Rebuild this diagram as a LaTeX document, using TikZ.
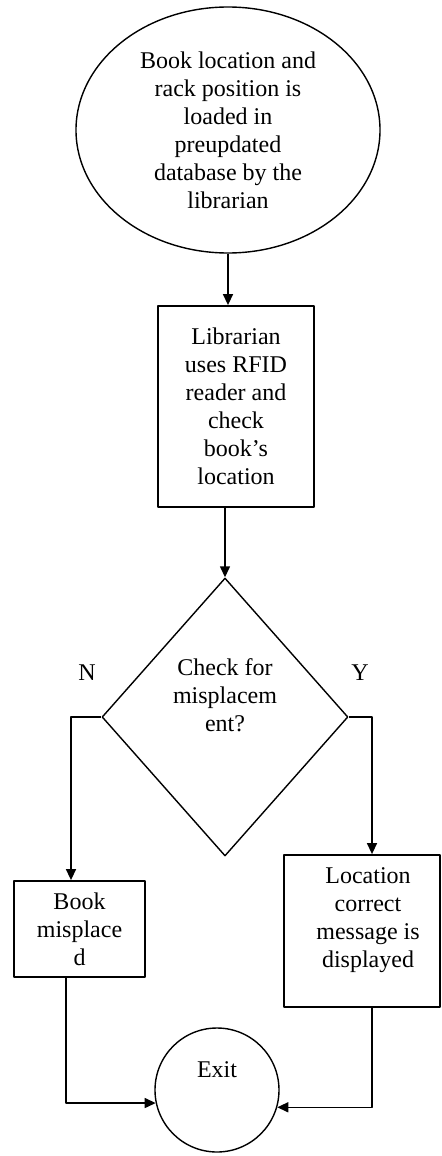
\documentclass[tikz,border=0pt]{standalone}
\usepackage{fontspec}
\setmainfont{Liberation Serif}
\usetikzlibrary{shapes.geometric,arrows.meta}
\begin{document}
\begin{tikzpicture}[x=0.5pt, y=-0.5pt, font=\fontsize{12}{14}\selectfont, line join=round, line width=0.7pt, >={Triangle[length=5.5pt,width=5pt]},
  every node/.style={align=center},
  startell/.style={draw, ellipse, minimum width=152pt, minimum height=123pt, inner sep=0pt},
  procbox/.style={draw, rectangle, line width=0.9pt, inner sep=0pt},
  decision/.style={draw, diamond, minimum width=123pt, minimum height=139pt, inner sep=0pt},
  endcirc/.style={draw, circle, minimum size=62pt, inner sep=0pt}]
\useasboundingbox (0,0) rectangle (442,1156);
\node[startell] (load) at (228,130) {Book location and\\rack position is\\loaded in\\preupdated\\database by the\\librarian};
\node[procbox, minimum width=78pt, minimum height=100.5pt] (scan) at (236,406.5) {Librarian\\uses RFID\\reader and\\check\\book’s\\location};
\node[decision] (check) at (225,717) {};
\node (checktxt) at ([yshift=11pt]check.center) {Check for\\misplacem\\ent?};
\node (no) at (87,673) {N};
\node (yes) at (360,673) {Y};
\node[procbox, minimum width=65.5pt, minimum height=48pt] (misp) at (79.5,929) {Book\\misplace\\d};
\node[procbox, minimum width=78pt, minimum height=76pt] (okbox) at (362,931) {};
\node (oktxt) at ([xshift=3pt,yshift=5.5pt]okbox.center) {Location\\correct\\message is\\displayed};
\node[endcirc, text depth=20pt] (exit) at (217,1090) {Exit};
\coordinate (nleg) at (71,717);
\coordinate (yleg) at (372,717);
\coordinate (lfoot) at (66,1103);
\coordinate (rfoot) at (372,1107);
\draw[->] (load.south) -- (load.south |- scan.north);
\draw[->] (scan.south -| check.north) -- (check.north);
\draw[->] (check.west) -- (nleg) -- (nleg |- misp.north);
\draw[->] (check.east) -- (yleg) -- (yleg |- okbox.north);
\draw[->] (misp.south -| lfoot) |- (exit.192);
\draw[->] (okbox.south -| rfoot) |- (exit.344);
\end{tikzpicture}
\end{document}
